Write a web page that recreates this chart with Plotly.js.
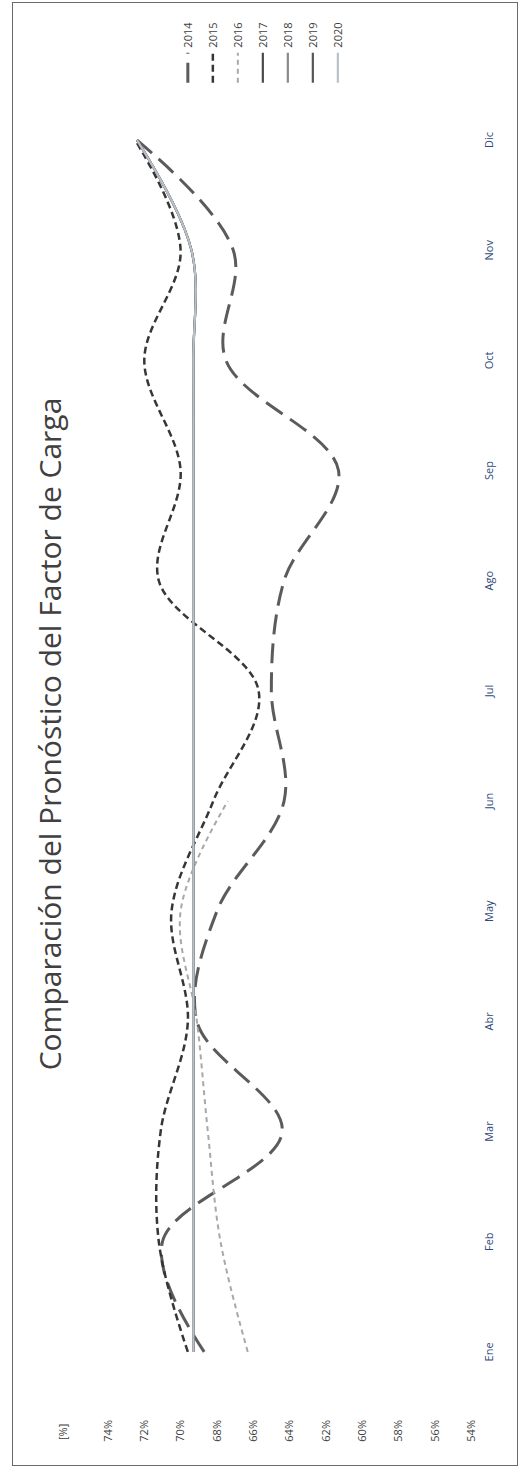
<!DOCTYPE html>
<html>
<head>
<meta charset="utf-8">
<script src="https://cdn.plot.ly/plotly-3.0.1.min.js"></script>
<style>
  html, body { margin: 0; padding: 0; background: #ffffff; overflow: hidden; }
  #wrap {
    position: absolute; left: 0; top: 0;
    width: 1468px; height: 529px;
    transform-origin: 0 0;
    transform: translate(0px, 1468px) rotate(-90deg);
    background: #ffffff;
  }
  #plot { position: absolute; left: 0; top: 0; width: 1468px; height: 529px; }
  #frame {
    position: absolute; left: 2px; top: 12px; width: 1462px; height: 504px;
    border: 1.5px solid #6a6a6a; pointer-events: none;
  }
</style>
</head>
<body>
<div id="wrap">
  <div id="plot"></div>
  <div id="frame"></div>
</div>
<script>
// ---- data (percent) ----
const months = ['Ene','Feb','Mar','Abr','May','Jun','Jul','Ago','Sep','Oct','Nov','Dic'];
const years = ['2014','2015','2016','2017','2018','2019','2020'];
const v2014 = [68.7, 71.0, 64.4, 69.1, 68.0, 64.3, 65.0, 64.3, 61.3, 67.5, 67.1, 72.4];
const v2015 = [69.6, 71.2, 71.1, 69.6, 70.5, 68.2, 65.7, 71.2, 70.0, 72.0, 70.0, 72.5];
const v2016 = [66.3, 67.8, 68.5, 69.1, 70.0, 67.4, null, null, null, null, null, null];
const v2017 = [69.3, 69.3, 69.3, 69.3, 69.3, 69.3, 69.3, 69.3, 69.3, 69.3, 69.4, 72.4];
const v2018 = [69.3, 69.3, 69.3, 69.3, 69.3, 69.3, 69.3, 69.3, 69.3, 69.3, 69.4, 72.4];
const v2019 = [69.3, 69.3, 69.3, 69.3, 69.3, 69.3, 69.3, 69.3, 69.3, 69.3, 69.4, 72.4];
const v2020 = [69.3, 69.3, 69.3, 69.3, 69.3, 69.3, 69.3, 69.3, 69.3, 69.3, 69.4, 72.4];
const yTicks = [54, 56, 58, 60, 62, 64, 66, 68, 70, 72, 74];
const yTickLabels = ['54%', '56%', '58%', '60%', '62%', '64%', '66%', '68%', '70%', '72%', '74%'];
const title = 'Comparación del Pronóstico del Factor de Carga';

const series = [v2014, v2015, v2016, v2017, v2018, v2019, v2020];
const styles = [
  {color: '#5b5b5b', width: 3,   dash: '20px,9px'},
  {color: '#363636', width: 2.5, dash: '7px,4px'},
  {color: '#a8a8a8', width: 2,   dash: '5px,4px'},
  {color: '#4a4a4a', width: 2.2, dash: 'solid'},
  {color: '#8a8a8a', width: 2.2, dash: 'solid'},
  {color: '#555555', width: 2.2, dash: 'solid'},
  {color: '#b9c0c8', width: 2.2, dash: 'solid'}
];

const traces = series.map((vals, i) => ({
  type: 'scatter', mode: 'lines',
  x: months, y: vals, name: years[i],
  legendgroup: 'g' + i,
  connectgaps: false,
  line: {shape: 'spline', smoothing: 1, color: styles[i].color, width: styles[i].width, dash: styles[i].dash},
  hoverinfo: 'skip'
}));

const layout = {
  width: 1468, height: 529,
  margin: {l: 61, r: 85, t: 108, b: 58},
  paper_bgcolor: 'rgba(0,0,0,0)', plot_bgcolor: 'rgba(0,0,0,0)',
  font: {family: 'Open Sans, Noto Sans, sans-serif', size: 11, color: '#404040'},
  title: {
    text: title, x: 0.5, xref: 'container', xanchor: 'center',
    y: 0.905, yref: 'container', yanchor: 'middle',
    font: {family: 'Open Sans, Noto Sans, sans-serif', size: 30, color: '#404040'}
  },
  xaxis: {
    type: 'category', categoryorder: 'array', categoryarray: months,
    range: [-0.5, 11.5], showgrid: false, zeroline: false, showline: false,
    ticks: '', ticklabelstandoff: 10,
    tickfont: {size: 11, color: '#2f4a7a'}
  },
  yaxis: {
    range: [54, 74], tickmode: 'array', tickvals: yTicks, ticktext: yTickLabels,
    showgrid: false, zeroline: false, showline: false, ticks: '',
    ticklabelstandoff: 12,
    tickfont: {size: 11, color: '#404040'}
  },
  showlegend: true,
  legend: {
    x: 0.998, xanchor: 'left', y: 0.82, yanchor: 'top',
    font: {size: 11, color: '#404040'},
    tracegroupgap: 6, bgcolor: 'rgba(0,0,0,0)'
  },
  annotations: [{
    text: '[%]', xref: 'paper', yref: 'paper',
    x: -0.0113, xanchor: 'right', y: 1.124, yanchor: 'middle',
    showarrow: false, font: {size: 11, color: '#404040'}
  }]
};

Plotly.newPlot('plot', traces, layout, {staticPlot: true, displayModeBar: false});
</script>
</body>
</html>
